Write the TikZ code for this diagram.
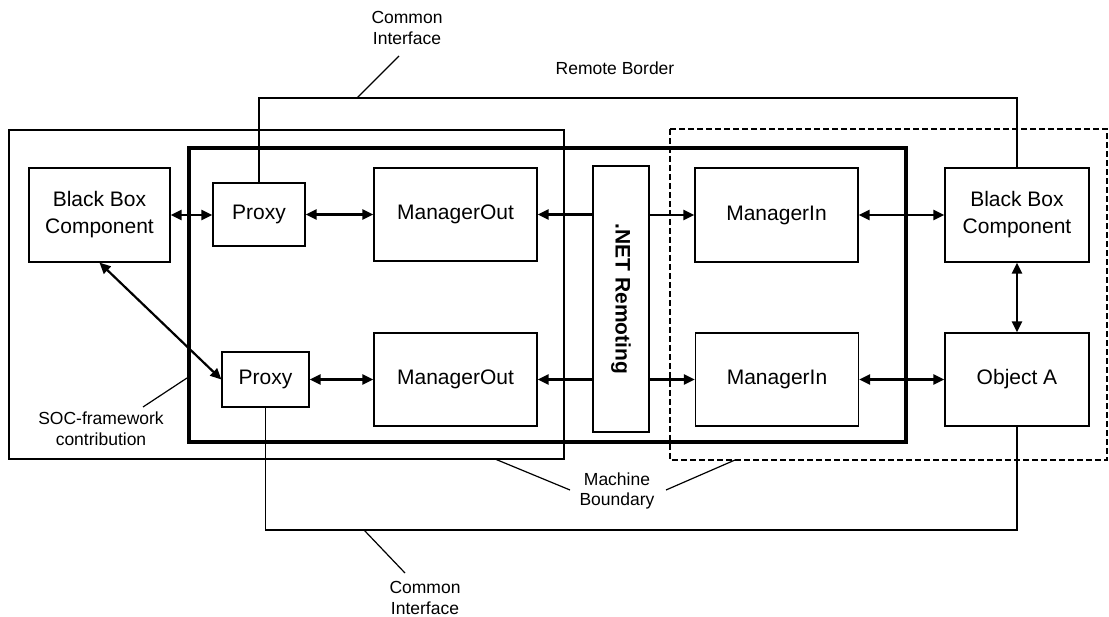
\documentclass[tikz,border=0pt]{standalone}
\usepackage{fontspec}
\setmainfont{Liberation Sans}
\usetikzlibrary{arrows.meta}
\begin{document}
\begin{tikzpicture}[x=1pt,y=-1pt,
  box/.style={draw, line width=1.2pt, inner sep=0pt, font=\fontsize{21}{27}\selectfont, align=center},
  lbl/.style={font=\fontsize{17.5}{20.5}\selectfont, align=center, inner sep=0pt},
  dbl/.style={line width=2.2pt, {Triangle[length=11pt,width=10pt]}-{Triangle[length=11pt,width=10pt]}},
  sgl/.style={line width=2.2pt, -{Triangle[length=11pt,width=10pt]}},
  conn/.style={line width=1.2pt},
  lead/.style={line width=1.2pt}]
\useasboundingbox (0,0) rectangle (1109,617);
% frames
\draw[line width=2.2pt] (9,130) rectangle (564,459);
\draw[line width=4.5pt] (189,148) rectangle (906,442);
\draw[line width=2.6pt, dash pattern=on 6pt off 3pt] (670,129) rectangle (1107,460);
% nodes
\node[box, minimum width=141, minimum height=94] (bbL) at (99.5,215) {Black Box\\Component};
\node[box, minimum width=92, minimum height=63] (pxT) at (259,214.5) {Proxy};
\node[box, minimum width=163, minimum height=93] (moT) at (455.5,214.5) {ManagerOut};
\node[box, minimum width=56, minimum height=266] (net) at (621,299) {\rotatebox{-90}{\bfseries .NET Remoting}};
\node[box, minimum width=163, minimum height=94] (miT) at (776.5,215) {ManagerIn};
\node[box, minimum width=144, minimum height=94] (bbR) at (1017,215) {Black Box\\Component};
\node[box, minimum width=87, minimum height=55] (pxB) at (265.5,379.5) {Proxy};
\node[box, minimum width=163, minimum height=93] (moB) at (455.5,379.5) {ManagerOut};
\node[box, minimum width=163, minimum height=93] (miB) at (777,379.5) {ManagerIn};
\node[box, minimum width=144, minimum height=93] (objA) at (1017,379.5) {Object A};
% arrows
\draw[dbl] (bbL.east) -- (pxT.west |- bbL.east);
\draw[dbl] (pxT.east) -- (moT.west |- pxT.east);
\draw[sgl] (net.west |- moT.east) -- (moT.east);
\draw[sgl] (net.east |- miT.west) -- (miT.west);
\draw[dbl] (miT.east) -- (bbR.west);
\draw[dbl] (pxB.east) -- (moB.west);
\draw[sgl] (net.west |- moB.east) -- (moB.east);
\draw[sgl] (net.east |- miB.west) -- (miB.west);
\draw[dbl] (miB.east) -- (objA.west);
\draw[dbl] (bbR.south) -- (objA.north);
\draw[dbl] (bbL.south) -- (pxB.west);
% common interface connectors
\coordinate (ct) at (600,98);
\coordinate (cb) at (600,530);
\draw[conn] (pxT.north) |- (ct) -| (bbR.north);
\draw[conn] (pxB.south) |- (cb) -| (objA.south);
% labels
\node[lbl] (ciT) at (407,28) {Common\\Interface};
\node[lbl] (rb) at (615,68) {Remote Border};
\node[lbl] (soc) at (101,428.5) {SOC-framework\\contribution};
\node[lbl] (mb) at (617,491) {Machine\\Boundary};
\node[lbl] (ciB) at (425,598) {Common\\Interface};
% leaders
\coordinate (l1a) at (357,98);  \coordinate (l1b) at (399,56);
\coordinate (l2a) at (143,407); \coordinate (l2b) at (187,378);
\coordinate (l3a) at (364,530); \coordinate (l3b) at (405,573);
\coordinate (l4a) at (495,459); \coordinate (l4b) at (570,490);
\coordinate (l5a) at (666,490); \coordinate (l5b) at (735,460);
\draw[lead] (l1a) -- (l1b);
\draw[lead] (l2a) -- (l2b);
\draw[lead] (l3a) -- (l3b);
\draw[lead] (l4a) -- (l4b);
\draw[lead] (l5a) -- (l5b);
\end{tikzpicture}
\end{document}
